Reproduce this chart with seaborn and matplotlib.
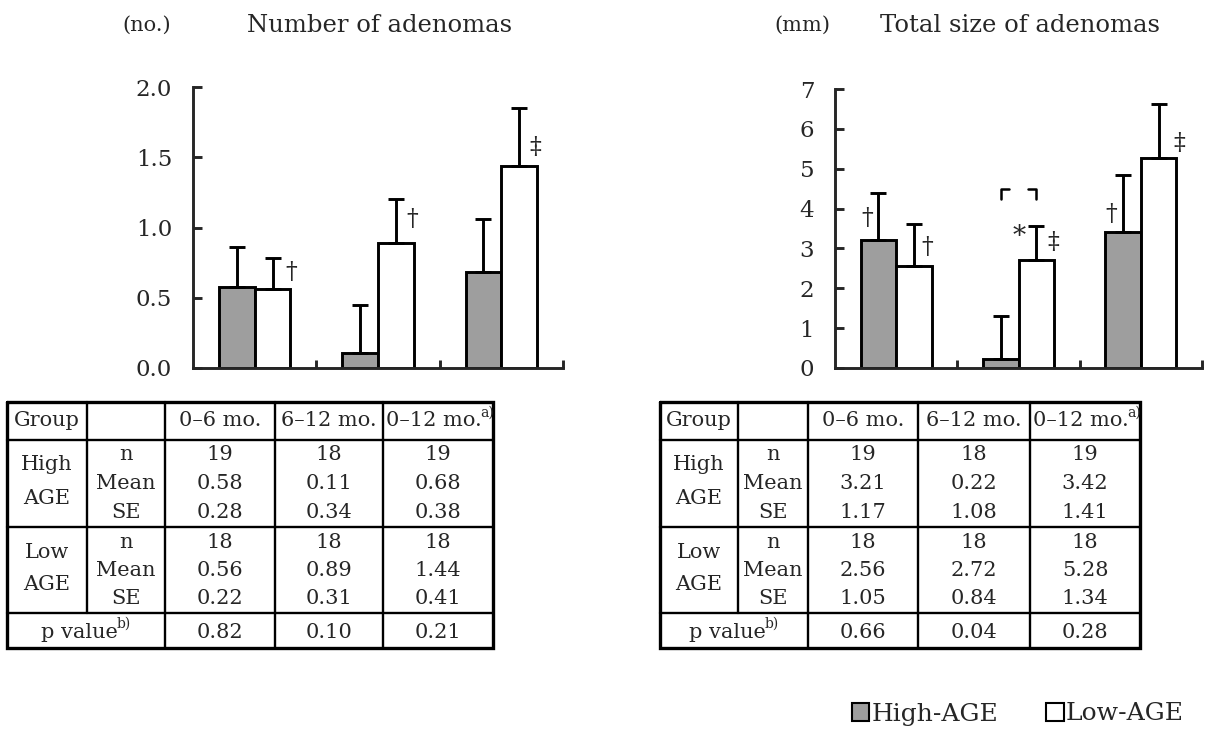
import numpy as np
import pandas as pd
import seaborn as sns
import matplotlib.pyplot as plt
from matplotlib.patches import Patch

# categories
periods = ["0–6 mo.", "6–12 mo.", "0–12 mo."]
groups = ["High-AGE", "Low-AGE"]

# number of adenomas (no.)
num_high_n = [19, 18, 19]
num_high_mean = [0.58, 0.11, 0.68]
num_high_se = [0.28, 0.34, 0.38]
num_low_n = [18, 18, 18]
num_low_mean = [0.56, 0.89, 1.44]
num_low_se = [0.22, 0.31, 0.41]
num_p = [0.82, 0.10, 0.21]

# total size of adenomas (mm)
size_high_n = [19, 18, 19]
size_high_mean = [3.21, 0.22, 3.42]
size_high_se = [1.17, 1.08, 1.41]
size_low_n = [18, 18, 18]
size_low_mean = [2.56, 2.72, 5.28]
size_low_se = [1.05, 0.84, 1.34]
size_p = [0.66, 0.04, 0.28]

sns.set_style("ticks")
plt.rcParams["font.family"] = ["DejaVu Serif"]

W, H = 1207, 731
fig = plt.figure(figsize=(W / 100, H / 100), dpi=100)
LW = 2.1
GRAY = "#9e9e9e"


def draw_panel(ax, hi_mean, hi_se, lo_mean, lo_se, ymax, yticks, ylabels):
    df = pd.DataFrame({
        "period": periods * 2,
        "group": [groups[0]] * 3 + [groups[1]] * 3,
        "mean": hi_mean + lo_mean,
    })
    sns.barplot(data=df, x="period", y="mean", hue="group", order=periods,
                hue_order=groups, palette={groups[0]: GRAY, groups[1]: "white"},
                saturation=1, width=0.58, edgecolor="black", linewidth=LW,
                errorbar=None, legend=False, ax=ax)
    # one-sided SE bars
    for cont, ses in zip(ax.containers, [hi_se, lo_se]):
        for bar, se in zip(cont, ses):
            x = bar.get_x() + bar.get_width() / 2
            ax.errorbar(x, bar.get_height(), yerr=[[0], [se]], fmt="none",
                        ecolor="black", elinewidth=LW, capsize=6, capthick=LW,
                        zorder=1)
    ax.set_xlim(-0.5, 2.5)
    ax.set_ylim(0, ymax)
    ax.set_yticks(yticks)
    ax.set_yticklabels(ylabels)
    ax.set_xticks([])
    ax.set_xticks([0.5, 1.5, 2.5], minor=True)
    ax.tick_params(axis="x", which="minor", direction="in", length=6, width=LW)
    ax.tick_params(axis="y", direction="in", length=6.5, width=LW, pad=15,
                   labelsize=16.5)
    ax.set_xlabel("")
    ax.set_ylabel("")
    for s in ["top", "right"]:
        ax.spines[s].set_visible(False)
    for s in ["left", "bottom"]:
        ax.spines[s].set_linewidth(LW)
    ax.set_facecolor("none")


def mark(ax, gi, pi, sym, dx, dy, size=17):
    bar = ax.containers[gi][pi]
    x = bar.get_x() + bar.get_width() / 2 + dx
    ax.text(x, bar.get_height() + dy, sym, ha="center", va="center",
            fontsize=size)


axL = fig.add_axes([193 / W, 1 - 368 / H, 370 / W, 281 / H])
draw_panel(axL, num_high_mean, num_high_se, num_low_mean, num_low_se,
           2.0, [0, 0.5, 1.0, 1.5, 2.0], ["0.0", "0.5", "1.0", "1.5", "2.0"])
mark(axL, 1, 0, "†", 0.155, 0.12)
mark(axL, 1, 1, "†", 0.13, 0.17)
mark(axL, 1, 2, "‡", 0.13, 0.13)

axR = fig.add_axes([835 / W, 1 - 368 / H, 367 / W, 279 / H])
draw_panel(axR, size_high_mean, size_high_se, size_low_mean, size_low_se,
           7, list(range(8)), [str(i) for i in range(8)])
mark(axR, 0, 0, "†", -0.09, 0.53)
mark(axR, 1, 0, "†", 0.11, 0.46)
mark(axR, 1, 1, "*", -0.14, 0.58, 19)
mark(axR, 1, 1, "‡", 0.14, 0.44)
mark(axR, 0, 2, "†", -0.10, 0.44)
mark(axR, 1, 2, "‡", 0.17, 0.36)

# broken bracket over 6-12 mo. in the size panel
hb = axR.containers[0][1]
lb = axR.containers[1][1]
hx = hb.get_x() + hb.get_width() / 2
lx = lb.get_x() + lb.get_width() / 2
axR.plot([hx, hx, hx + 0.065], [4.24, 4.49, 4.49], color="black", lw=1.8)
axR.plot([lx - 0.065, lx, lx], [4.49, 4.49, 4.24], color="black", lw=1.8)

# overlay in pixel coordinates for titles and tables
ov = fig.add_axes([0, 0, 1, 1])
ov.set_xlim(0, W)
ov.set_ylim(H, 0)
ov.axis("off")
ov.set_zorder(-1)

ov.text(147, 25, "(no.)", ha="center", va="center", fontsize=15)
ov.text(380, 25, "Number of adenomas", ha="center", va="center", fontsize=17.5)
ov.text(802, 25, "(mm)", ha="center", va="center", fontsize=15)
ov.text(1020, 25, "Total size of adenomas", ha="center", va="center", fontsize=17.5)


def draw_table(xs, hi_n, hi_m, hi_s, lo_n, lo_m, lo_s, pv, fs=15):
    ys = [402, 440, 527, 613, 648]
    x0, x5 = xs[0], xs[-1]
    ov.plot([x0, x5, x5, x0, x0], [ys[0], ys[0], ys[-1], ys[-1], ys[0]],
            color="black", lw=2.4, solid_joinstyle="miter")
    for y in ys[1:-1]:
        ov.plot([x0, x5], [y, y], color="black", lw=1.7)
    ov.plot([xs[1], xs[1]], [ys[0], ys[3]], color="black", lw=1.7)
    for x in xs[2:-1]:
        ov.plot([x, x], [ys[0], ys[-1]], color="black", lw=1.7)
    cx = [(a + b) / 2 for a, b in zip(xs[:-1], xs[1:])]
    kw = dict(ha="center", va="center", fontsize=fs)
    ov.text(cx[0], 421, "Group", **kw)
    for c, t in zip(cx[2:4], periods[:2]):
        ov.text(c, 421, t, **kw)
    # last header with footnote mark a) over the period
    ov.text(x5 - 11, 421, periods[2], ha="right", va="center", fontsize=fs)
    ov.text(x5 - 13, 413, "a)", ha="left", va="center", fontsize=10)
    ov.text(cx[0], 465, "High", **kw)
    ov.text(cx[0], 498, "AGE", **kw)
    ov.text(cx[0], 553, "Low", **kw)
    ov.text(cx[0], 585, "AGE", **kw)
    for base, ns, ms, ss in [(455, hi_n, hi_m, hi_s), (542, lo_n, lo_m, lo_s)]:
        for k, lab in enumerate(["n", "Mean", "SE"]):
            ov.text(cx[1], base + 28.5 * k, lab, **kw)
        for c, n, m, s in zip(cx[2:], ns, ms, ss):
            ov.text(c, base, f"{n}", **kw)
            ov.text(c, base + 28.5, f"{m:.2f}", **kw)
            ov.text(c, base + 57, f"{s:.2f}", **kw)
    pc = (xs[0] + xs[2]) / 2
    ov.text(pc + 32, 632, "p value", ha="right", va="center", fontsize=fs)
    ov.text(pc + 31, 624, "b)", ha="left", va="center", fontsize=10)
    for c, p in zip(cx[2:], pv):
        ov.text(c, 632, f"{p:.2f}", **kw)


draw_table([7, 87, 165, 275, 383, 493], num_high_n, num_high_mean, num_high_se,
           num_low_n, num_low_mean, num_low_se, num_p)
draw_table([660, 738, 808, 918, 1030, 1140], size_high_n, size_high_mean,
           size_high_se, size_low_n, size_low_mean, size_low_se, size_p)

handles = [Patch(facecolor=GRAY, edgecolor="black", lw=1.5, label=groups[0]),
           Patch(facecolor="white", edgecolor="black", lw=1.5, label=groups[1])]
fig.legend(handles=handles, loc="center right", ncol=2, frameon=False,
           bbox_to_anchor=(1184 / W, 1 - 714 / H), fontsize=18,
           handlelength=0.7, handleheight=0.7, handletextpad=0.1,
           columnspacing=1.9, borderaxespad=0, borderpad=0)

fig.savefig("out.png", dpi=100)
